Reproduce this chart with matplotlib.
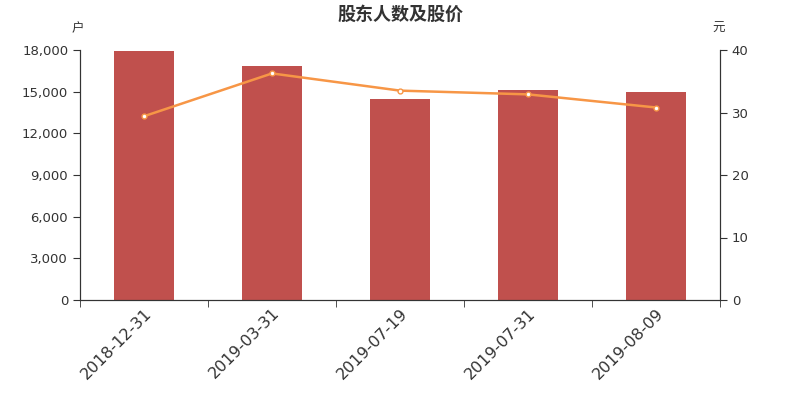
import matplotlib
matplotlib.use("Agg")
import matplotlib.pyplot as plt
import matplotlib.transforms as mtransforms
from matplotlib.ticker import FuncFormatter, FixedLocator
import numpy as np

plt.rcParams['font.family'] = ['DejaVu Sans', 'Noto Sans CJK SC']

dates = ["2018-12-31", "2019-03-31", "2019-07-19", "2019-07-31", "2019-08-09"]
holders = [17950, 16850, 14480, 15100, 14950]
price = [29.4, 36.25, 33.5, 32.9, 30.8]

fig = plt.figure(figsize=(8, 4), dpi=100)
ax = fig.add_axes([0.1, 0.25, 0.8, 0.625])
x = np.arange(len(dates))
ax.bar(x, holders, width=0.47, color="#c0504d", zorder=2)
ax.set_xlim(-0.5, len(dates) - 0.5)
ax.set_ylim(0, 18000)
ax.set_yticks(np.arange(0, 18001, 3000))
ax.yaxis.set_major_formatter(FuncFormatter(lambda v, p: f"{int(v):,}"))
ax.set_xticks(x)
ax.set_xticklabels(dates, rotation=45, ha="right", rotation_mode="anchor", fontsize=11.5, color="#333333")
offset = mtransforms.ScaledTranslation(-4 / 100, 0, fig.dpi_scale_trans)
for lbl in ax.get_xticklabels():
    lbl.set_transform(lbl.get_transform() + offset)
ax.xaxis.set_minor_locator(FixedLocator(np.arange(-0.5, len(dates), 1.0)))
ax.tick_params(axis="x", which="major", length=0, pad=4)
ax.tick_params(axis="x", which="minor", length=5, color="#333333")
ax.tick_params(axis="y", length=5, color="#333333", labelcolor="#333333", labelsize=9.5)
for s in ["top"]:
    ax.spines[s].set_visible(False)
for s in ["left", "bottom", "right"]:
    ax.spines[s].set_color("#333333")

ax2 = ax.twinx()
ax2.plot(x, price, color="#f79646", lw=1.8, marker="o", ms=3.5,
         markerfacecolor="white", markeredgecolor="#f79646", markeredgewidth=1, zorder=3)
ax2.set_ylim(0, 40)
ax2.set_yticks(np.arange(0, 41, 10))
ax2.tick_params(axis="y", length=5, color="#333333", labelcolor="#333333", labelsize=9.5)
ax2.spines["top"].set_visible(False)
for s in ["left", "bottom", "right"]:
    ax2.spines[s].set_color("#333333")

fig.text(0.5, 0.965, "股东人数及股价", ha="center", va="center", fontsize=13,
         fontweight="bold", color="#333333", family=['Noto Sans CJK SC'])
fig.text(0.097, 0.928, "户", ha="center", va="center", fontsize=9, color="#333333",
         family=['Noto Sans CJK SC'])
fig.text(0.898, 0.928, "元", ha="center", va="center", fontsize=9, color="#333333",
         family=['Noto Sans CJK SC'])

fig.savefig("out.png", dpi=100)
